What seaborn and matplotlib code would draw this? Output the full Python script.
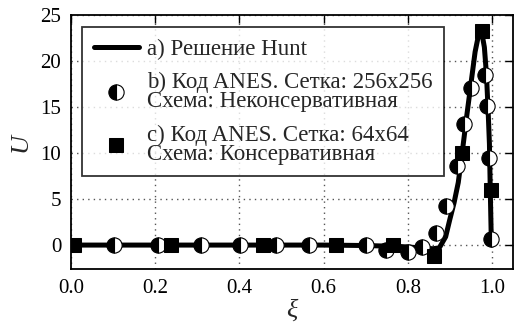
import matplotlib
matplotlib.use("Agg")
import matplotlib.pyplot as plt
import seaborn as sns
import pandas as pd

# a) Hunt analytical solution
xi_hunt = [0.0, 0.1, 0.2, 0.3, 0.4, 0.5, 0.6, 0.7, 0.78, 0.83, 0.86, 0.875,
           0.89, 0.90, 0.91, 0.92, 0.93, 0.94, 0.95, 0.96, 0.968, 0.975,
           0.982, 0.987, 0.991, 0.994, 0.996, 0.998, 1.0]
u_hunt = [0.0, 0.0, 0.0, 0.0, 0.0, 0.0, 0.0, -0.05, -0.15, -0.3, -0.4, -0.3,
          0.9, 2.8, 4.6, 6.8, 10.3, 14.0, 17.5, 21.0, 22.8, 23.3,
          21.5, 18.5, 14.5, 11.0, 6.0, 1.5, 0.0]

# b) ANES, 256x256 grid, non-conservative scheme
xi_b = [0.103, 0.206, 0.309, 0.402, 0.487, 0.566, 0.700, 0.748, 0.800, 0.835,
        0.868, 0.892, 0.918, 0.934, 0.950, 0.984, 0.988, 0.994, 0.997]
u_b = [0.0, 0.0, 0.0, 0.0, 0.0, 0.0, 0.0, -0.5, -0.8, -0.2,
       1.3, 4.3, 8.6, 13.2, 17.1, 18.5, 15.1, 9.5, 0.7]

# c) ANES, 64x64 grid, conservative scheme
xi_c = [0.008, 0.238, 0.455, 0.629, 0.764, 0.862, 0.930, 0.977, 0.998]
u_c = [0.0, 0.0, 0.0, 0.0, 0.0, -1.2, 10.0, 23.3, 6.0]

x_ticks = [0.0, 0.2, 0.4, 0.6, 0.8, 1.0]
y_ticks = [0, 5, 10, 15, 20, 25]

label_a = "a) Решение Hunt"
label_b = "b) Код ANES. Сетка: 256x256\nСхема: Неконсервативная"
label_c = "c) Код ANES. Сетка: 64x64\nСхема: Консервативная"

sns.set_style("white")
plt.rcParams["font.family"] = ["Liberation Serif", "DejaVu Serif"]

hunt = pd.DataFrame({"xi": xi_hunt, "U": u_hunt})
fine = pd.DataFrame({"xi": xi_b, "U": u_b})
coarse = pd.DataFrame({"xi": xi_c, "U": u_c})

fig = plt.figure(figsize=(5.16, 3.30), dpi=100)
ax = fig.add_axes([71 / 516, 61 / 330, 442 / 516, 254 / 330])

sns.lineplot(data=hunt, x="xi", y="U", ax=ax, color="black", lw=3.6,
             sort=False, estimator=None, label=label_a, zorder=2)
sns.lineplot(data=fine, x="xi", y="U", ax=ax, sort=False, estimator=None,
             linestyle="none", marker="o", markersize=11, fillstyle="left",
             color="black", markerfacecolor="black",
             markerfacecoloralt="white", markeredgecolor="black",
             markeredgewidth=0.8, label=label_b, zorder=3)
sns.lineplot(data=coarse, x="xi", y="U", ax=ax, sort=False, estimator=None,
             linestyle="none", marker="s", markersize=10.5, color="black",
             markerfacecolor="black", markeredgecolor="black",
             label=label_c, zorder=4)

ax.set_xlim(0, 1.05)
ax.set_ylim(-2.6, 25)
ax.set_xticks(x_ticks)
ax.set_yticks(y_ticks)
ax.set_xticklabels([f"{v:.1f}" for v in x_ticks])
ax.set_yticklabels([str(v) for v in y_ticks])
ax.tick_params(direction="in", length=6, width=1, labelsize=15,
               top=True, right=True, pad=7, colors="black")
ax.grid(True, linestyle=(0, (1, 3)), color="#555555", lw=1.0)
for s in ax.spines.values():
    s.set_color("black")
    s.set_linewidth(1.3)

ax.set_xlabel("ξ", fontsize=19, fontstyle="italic", labelpad=1)
ax.set_ylabel("U", fontsize=19, fontstyle="italic", labelpad=6)

handles, labels = ax.get_legend_handles_labels()
leg = ax.legend(handles, labels, loc="upper left",
                bbox_to_anchor=(0.025, 0.953), borderaxespad=0,
                fontsize=16.5, frameon=True, fancybox=False,
                handlelength=2.0, handletextpad=0.35, labelspacing=0.55,
                borderpad=0.5)
leg.get_frame().set_edgecolor("black")
leg.get_frame().set_linewidth(1.3)
for t in leg.get_texts():
    t.set_linespacing(0.87)

fig.savefig("out.png", dpi=100)
